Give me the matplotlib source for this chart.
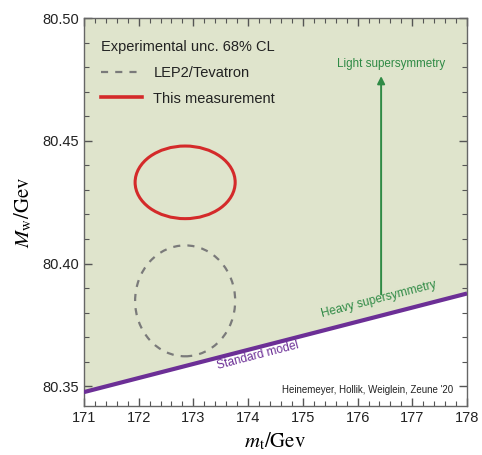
import matplotlib
matplotlib.use("Agg")
import matplotlib.pyplot as plt
from matplotlib.patches import Ellipse
from matplotlib.lines import Line2D
from matplotlib.ticker import MultipleLocator

plt.rcParams['font.family'] = ['Liberation Sans', 'DejaVu Sans']
plt.rcParams['mathtext.fontset'] = 'stix'

# data
mt_range = [171, 178]
sm_line = [80.3476, 80.3878]       # standard model band edge at mt_range ends
mw_top = 80.50

lep_center = (172.85, 80.3848)     # LEP2/Tevatron
lep_half = (0.914, 0.0226)
cdf_center = (172.85, 80.4331)     # this measurement
cdf_half = (0.914, 0.0148)

arrow_x = 176.43
arrow_y = [80.3874, 80.4764]

green_fill = '#dfe4cc'
purple = '#6c2f96'
red = '#d42a2a'
grey = '#7a7a7a'
green = '#2f8a45'

fig = plt.figure(figsize=(4.82, 4.55), dpi=100)
ax = fig.add_axes([0.174, 0.108, 0.795, 0.852])

ax.fill_between(mt_range, sm_line, [mw_top, mw_top], color=green_fill, lw=0, zorder=0)
ax.plot(mt_range, sm_line, color=purple, lw=3, solid_capstyle='butt', zorder=3)

ax.add_patch(Ellipse(lep_center, 2 * lep_half[0], 2 * lep_half[1], fill=False,
                     ec=grey, lw=1.6, ls=(0, (3.2, 3.2)), zorder=2))
ax.add_patch(Ellipse(cdf_center, 2 * cdf_half[0], 2 * cdf_half[1], fill=False,
                     ec=red, lw=2.2, zorder=2))

ax.annotate('', xy=(arrow_x, arrow_y[1]), xytext=(arrow_x, arrow_y[0]),
            arrowprops=dict(arrowstyle='-|>', color=green, lw=1.4,
                            mutation_scale=11, shrinkA=0, shrinkB=0))
ax.text(arrow_x + 0.18, 80.4813, 'Light supersymmetry', color=green, fontsize=8.4,
        ha='center', va='center')
ax.text(176.39, 80.3855, 'Heavy supersymmetry', color=green, fontsize=8.6,
        ha='center', va='center', rotation=14.5, rotation_mode='anchor')
ax.text(174.18, 80.3625, 'Standard model', color=purple, fontsize=8.6,
        ha='center', va='center', rotation=14.5, rotation_mode='anchor')
ax.text(0.963, 0.041, "Heinemeyer, Hollik, Weiglein, Zeune '20", transform=ax.transAxes,
        fontsize=7, ha='right', va='center', color='#222222')

handles = [Line2D([], [], color=grey, lw=1.6, ls=(0, (3.2, 3.2))),
           Line2D([], [], color=red, lw=2.6)]
leg = ax.legend(handles, ['LEP2/Tevatron', 'This measurement'],
                title='Experimental unc. 68% CL', title_fontsize=10.5, fontsize=10.5,
                loc='upper left', bbox_to_anchor=(0.01, 0.977), frameon=False,
                handlelength=2.8, handletextpad=0.8, labelspacing=0.8,
                alignment='left')
leg.get_title().set_color('#222222')
for t in leg.get_texts():
    t.set_color('#222222')

ax.set_xlim(*mt_range)
ax.set_ylim(80.342, mw_top)
ax.xaxis.set_major_locator(MultipleLocator(1))
ax.xaxis.set_minor_locator(MultipleLocator(0.2))
ax.yaxis.set_major_locator(MultipleLocator(0.05))
ax.yaxis.set_minor_locator(MultipleLocator(0.01))
ax.yaxis.set_major_formatter(matplotlib.ticker.FormatStrFormatter('%.2f'))
ax.tick_params(which='both', direction='in', top=True, right=True, colors='#555555',
               labelcolor='#222222', labelsize=10.5)
ax.tick_params(which='major', length=6, width=1)
ax.tick_params(which='minor', length=3.3, width=0.8)
for s in ax.spines.values():
    s.set_color('#666666')
    s.set_linewidth(1)

ax.set_xlabel(r'$m_{\rm t}/\mathrm{Gev}$', fontsize=15, labelpad=4)
ax.set_ylabel(r'$M_{\rm w}/\mathrm{Gev}$', fontsize=15, labelpad=6)

fig.savefig('out.png', dpi=100)
